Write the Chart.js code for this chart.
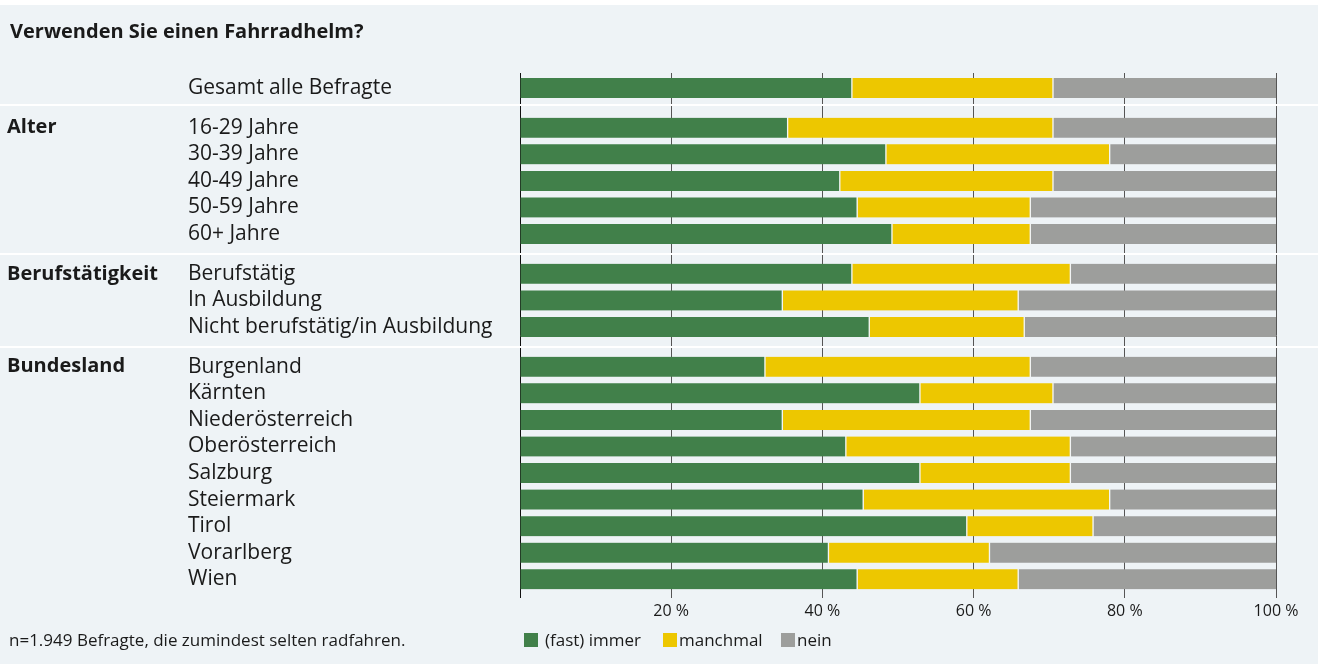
<!DOCTYPE html>
<html><head><meta charset="utf-8">
<script src="https://cdn.jsdelivr.net/npm/chart.js@4.4.1/dist/chart.umd.min.js"></script>
<style>
html,body{margin:0;padding:0;background:#fff;}
#wrap{position:relative;width:1318px;height:664px;overflow:hidden;font-family:"Open Sans", sans-serif;color:#1a1a1a;}
#panel{position:absolute;left:0;top:5px;width:1318px;height:659px;background:#eef3f6;}
#c{position:absolute;left:0;top:0;}
#title{position:absolute;left:10px;top:17px;font-weight:700;font-size:20px;line-height:28px;white-space:nowrap;}
#note{position:absolute;left:9px;top:628px;font-size:17px;line-height:24px;white-space:nowrap;}
.leg{position:absolute;top:628px;font-size:17px;line-height:24px;white-space:nowrap;}
.sw{position:absolute;width:14px;height:14px;top:633px;}
</style></head>
<body>
<div id="wrap">
<div id="panel"></div>
<canvas id="c" width="1318" height="664"></canvas>
<div id="title">Verwenden Sie einen Fahrradhelm?</div>
<div id="note">n=1.949 Befragte, die zumindest selten radfahren.</div>
<div id="legend"></div>
</div>
<script>
// ---- data ----
const groupNames = ['', 'Alter', 'Berufstätigkeit', 'Bundesland'];
const groupSizes = [1, 5, 3, 9];
const categories = ['Gesamt alle Befragte','16-29 Jahre','30-39 Jahre','40-49 Jahre','50-59 Jahre','60+ Jahre',
  'Berufstätig','In Ausbildung','Nicht berufstätig/in Ausbildung',
  'Burgenland','Kärnten','Niederösterreich','Oberösterreich','Salzburg','Steiermark','Tirol','Vorarlberg','Wien'];
const immer    = [43.9,35.4,48.4,42.3,44.6,49.2,43.9,34.7,46.2,32.4,52.9,34.7,43.1,52.9,45.4,59.1,40.8,44.6];
const manchmal = [26.6,35.1,29.6,28.2,22.9,18.3,28.9,31.2,20.5,35.1,17.6,32.8,29.7,19.9,32.6,16.7,21.3,21.3];
const nein     = [29.5,29.5,22.0,29.5,32.5,32.5,27.2,34.1,33.3,32.5,29.5,32.5,27.2,27.2,22.0,24.2,37.9,34.1];
const seriesNames = ['(fast) immer','manchmal','nein'];
const xTickValues = [0,20,40,60,80,100];

// ---- styles ----
const colors = ['#41804a','#edc700','#9d9e9c'];
const FONT = 'Open Sans';

// ---- slot layout (row pitch / group gaps) ----
const SLOT_ROW = 8, SLOT_GAP_EXTRA = 4, SLOT_TOP = 4, SLOT_BOTTOM = 5;
const rowGroup = [];
groupSizes.forEach((n, gi) => { for (let k = 0; k < n; k++) rowGroup.push(gi); });
const rowSlot = categories.map((c, r) => SLOT_TOP + SLOT_ROW * r + SLOT_GAP_EXTRA * rowGroup[r]);
const nSlots = rowSlot[rowSlot.length - 1] + 1 + SLOT_BOTTOM;
const labels = new Array(nSlots).fill('');
rowSlot.forEach((s, r) => labels[s] = categories[r]);
function spread(arr) { const out = new Array(nSlots).fill(null); rowSlot.forEach((s, r) => out[s] = arr[r]); return out; }

// ---- legend (HTML) ----
const legPos = [[524,545],[663,679],[781,797]];
const legEl = document.getElementById('legend');
seriesNames.forEach((n, i) => {
  const sw = document.createElement('div'); sw.className = 'sw'; sw.style.left = legPos[i][0] + 'px'; sw.style.background = colors[i]; legEl.appendChild(sw);
  const t = document.createElement('div'); t.className = 'leg'; t.style.left = legPos[i][1] + 'px'; t.textContent = n; legEl.appendChild(t);
});

const groupPlugin = {
  id: 'groups',
  afterDatasetsDraw(chart) {
    const ctx = chart.ctx, y = chart.scales.y;
    ctx.save();
    ctx.fillStyle = '#ffffff';
    for (let r = 1; r < categories.length; r++) {
      if (rowGroup[r] !== rowGroup[r - 1]) {
        const a = y.getPixelForValue(rowSlot[r - 1]), b = y.getPixelForValue(rowSlot[r]);
        const yp = a + (b - a) * (r === 1 ? 0.42 : 0.5);
        ctx.fillRect(0, Math.round(yp) - 1, chart.width, 2);
      }
    }
    ctx.font = 'bold 20px "' + FONT + '"';
    ctx.fillStyle = '#1a1a1a';
    ctx.textBaseline = 'middle';
    ctx.textAlign = 'left';
    groupNames.forEach((g, gi) => {
      if (!g) return;
      const r = rowGroup.indexOf(gi);
      ctx.fillText(g, 7, y.getPixelForValue(rowSlot[r]));
    });
    ctx.restore();
  }
};

const borders = [{left:0,right:1,top:0,bottom:0},{left:1,right:1,top:0,bottom:0},{left:1,right:0,top:0,bottom:0}];
const seriesData = [immer, manchmal, nein];

new Chart(document.getElementById('c'), {
  type: 'bar',
  data: {
    labels: labels,
    datasets: seriesNames.map((n, i) => ({
      label: n, data: spread(seriesData[i]), backgroundColor: colors[i],
      borderColor: '#f3f5f4', borderWidth: borders[i], borderSkipped: false, barThickness: 20
    }))
  },
  options: {
    indexAxis: 'y', responsive: false, animation: false, devicePixelRatio: 1,
    layout: { padding: { left: 188, top: 73, right: 42, bottom: 36.5 } },
    plugins: { legend: { display: false }, tooltip: { enabled: false } },
    scales: {
      x: {
        stacked: true, min: 0, max: 100,
        afterBuildTicks: s => { s.ticks = xTickValues.map(v => ({ value: v })); },
        ticks: { callback: v => v === 0 ? '' : v + ' %', font: { family: FONT, size: 16 }, color: '#1a1a1a', padding: 4, maxRotation: 0, autoSkip: false },
        grid: { color: '#555', lineWidth: 1, drawTicks: false },
        border: { display: false },
        afterFit: s => { s.height = 30; }
      },
      y: {
        stacked: true,
        grid: { display: false },
        border: { display: true, color: '#111', width: 1 },
        ticks: { autoSkip: false, crossAlign: 'far', font: { family: FONT, size: 21 }, color: '#1a1a1a' },
        afterFit: s => { s.width = 332; }
      }
    }
  },
  plugins: [groupPlugin]
});
</script>
</body></html>
